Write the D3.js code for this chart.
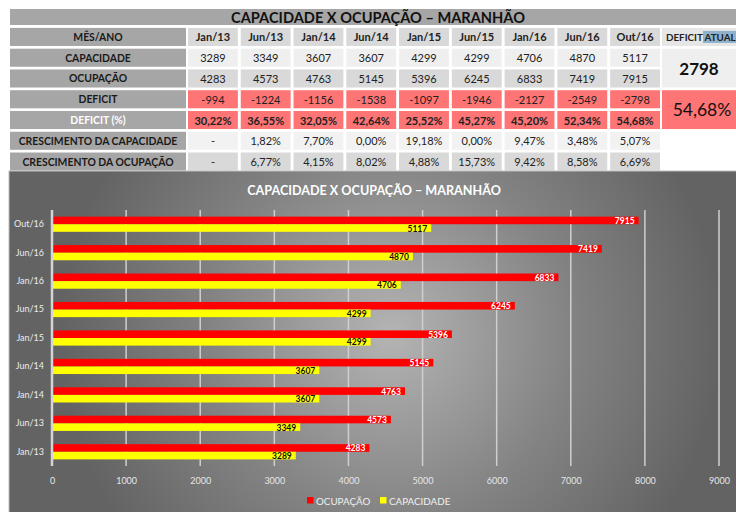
<!DOCTYPE html>
<html><head><meta charset="utf-8">
<script src="https://cdn.jsdelivr.net/npm/d3@7"></script>
<style>
html,body{margin:0;padding:0;background:#fff;}
svg{display:block;font-family:Lato,"Open Sans",sans-serif;}
</style></head>
<body>
<svg id="c" width="736" height="512"></svg>
<script>
const months = ["Jan/13","Jun/13","Jan/14","Jun/14","Jan/15","Jun/15","Jan/16","Jun/16","Out/16"];
const capacidade = [3289,3349,3607,3607,4299,4299,4706,4870,5117];
const ocupacao = [4283,4573,4763,5145,5396,6245,6833,7419,7915];
const deficit = [-994,-1224,-1156,-1538,-1097,-1946,-2127,-2549,-2798];
const deficitPct = ["30,22%","36,55%","32,05%","42,64%","25,52%","45,27%","45,20%","52,34%","54,68%"];
const crescCap = ["-","1,82%","7,70%","0,00%","19,18%","0,00%","9,47%","3,48%","5,07%"];
const crescOc = ["-","6,77%","4,15%","8,02%","4,88%","15,73%","9,42%","8,58%","6,69%"];
const rowLabels = ["MÊS/ANO","CAPACIDADE","OCUPAÇÃO","DEFICIT","DEFICIT (%)","CRESCIMENTO DA CAPACIDADE","CRESCIMENTO DA OCUPAÇÃO"];
const deficitAtual = "2798";
const deficitAtualPct = "54,68%";
const xTicks = [0,1000,2000,3000,4000,5000,6000,7000,8000,9000];
const title = "CAPACIDADE X OCUPAÇÃO – MARANHÃO";
const seriesNames = ["OCUPAÇÃO","CAPACIDADE"];

const svg = d3.select("#c");
const defs = svg.append("defs");

// ---------- TABLE ----------
svg.append("rect").attr("x",10).attr("y",9).attr("width",730).attr("height",16).attr("fill","#a6a6a6");
svg.append("text").attr("x",378).attr("y",17.5).attr("text-anchor","middle").attr("dominant-baseline","central")
  .attr("font-size",14.6).attr("font-weight","bold").attr("fill","#111").text(title);

const rowScale = d3.scaleBand().domain(d3.range(7)).range([27.5,171]).paddingInner(0.13).paddingOuter(0.02);
const colScale = d3.scaleBand().domain(months).range([188,660]).paddingInner(0.055);

const rows = [
  {vals: months, fill:"#d9d9d9", bold:true},
  {vals: capacidade.map(String), fill:"#efefef"},
  {vals: ocupacao.map(String), fill:"#d9d9d9"},
  {vals: deficit.map(String), fill:"#ff7474"},
  {vals: deficitPct, fill:"#ff7474", bold:true},
  {vals: crescCap, fill:"#f2f2f2"},
  {vals: crescOc, fill:"#d9d9d9"}
];

rows.forEach((r,i)=>{
  const y = rowScale(i), h = rowScale.bandwidth();
  svg.append("rect").attr("x",10).attr("y",y).attr("width",176).attr("height",h).attr("fill","#a6a6a6");
  svg.append("text").attr("x",98).attr("y",y+h/2).attr("text-anchor","middle").attr("dominant-baseline","central")
    .attr("font-size",10.4).attr("font-weight","bold").attr("fill", i===4?"#fff":"#1a1a1a").text(rowLabels[i]);
  const g = svg.append("g");
  g.selectAll("rect").data(r.vals).join("rect")
    .attr("x",(d,j)=>colScale(months[j])).attr("y",y).attr("width",colScale.bandwidth()).attr("height",h).attr("fill",r.fill);
  g.selectAll("text").data(r.vals).join("text")
    .attr("x",(d,j)=>colScale(months[j])+colScale.bandwidth()/2).attr("y",y+h/2)
    .attr("text-anchor","middle").attr("dominant-baseline","central")
    .attr("font-size",11).attr("font-weight",r.bold?"bold":"normal").attr("fill","#222").text(d=>d);
});

// right column
{
  const x0 = 662, w = 80;
  const y0 = rowScale(0), h = rowScale.bandwidth();
  svg.append("rect").attr("x",x0).attr("y",y0).attr("width",w).attr("height",h).attr("fill","#e6e6e6");
  svg.append("rect").attr("x",703).attr("y",y0+3).attr("width",33).attr("height",h-6).attr("fill","#8fb1cc");
  svg.append("text").attr("x",666).attr("y",y0+h/2).attr("dominant-baseline","central")
    .attr("font-size",9.8).attr("font-weight","bold").attr("fill","#222").text("DEFICIT ATUAL");
  const y1 = rowScale(1), y2 = rowScale(2)+h;
  svg.append("rect").attr("x",x0).attr("y",y1).attr("width",w).attr("height",y2-y1).attr("fill","#efefef");
  svg.append("text").attr("x",699).attr("y",(y1+y2)/2).attr("text-anchor","middle").attr("dominant-baseline","central")
    .attr("font-size",17).attr("font-weight","bold").attr("fill","#111").text(deficitAtual);
  const y3 = rowScale(3), y4 = rowScale(4)+h;
  svg.append("rect").attr("x",x0).attr("y",y3).attr("width",w).attr("height",y4-y3).attr("fill","#ff7474");
  svg.append("text").attr("x",702).attr("y",(y3+y4)/2).attr("text-anchor","middle").attr("dominant-baseline","central")
    .attr("font-size",17.5).attr("fill","#111").text(deficitAtualPct);
}

// ---------- CHART ----------
const grad = defs.append("radialGradient").attr("id","bg").attr("gradientUnits","userSpaceOnUse")
  .attr("cx",390).attr("cy",335).attr("r",330);
grad.append("stop").attr("offset","0").attr("stop-color","#b4b4b4");
grad.append("stop").attr("offset","0.55").attr("stop-color","#838383");
grad.append("stop").attr("offset","1").attr("stop-color","#636363");

svg.append("rect").attr("x",9).attr("y",171).attr("width",730).attr("height",345)
  .attr("fill","url(#bg)").attr("stroke","#bdbdbd").attr("stroke-width",1);

svg.append("text").attr("x",374).attr("y",190).attr("text-anchor","middle").attr("dominant-baseline","central")
  .attr("font-size",12.6).attr("font-weight","bold").attr("fill","#fff").text(title);

const x = d3.scaleLinear().domain([0,9000]).range([52,719]);
const y = d3.scaleBand().domain(months.slice().reverse()).range([210,466]);
const bh = 7.6;

// gridlines
svg.append("g").selectAll("line").data(xTicks.slice(1)).join("line")
  .attr("x1",d=>x(d)).attr("x2",d=>x(d)).attr("y1",210).attr("y2",466)
  .attr("stroke","#cfcfcf").attr("stroke-width",1.5);

// bars
const data = months.map((m,i)=>({m, oc:ocupacao[i], cap:capacidade[i]}));
const gb = svg.append("g");
gb.selectAll("rect.oc").data(data).join("rect").attr("class","oc")
  .attr("x",x(0)).attr("y",d=>y(d.m)+y.bandwidth()/2-bh).attr("width",d=>x(d.oc)-x(0)).attr("height",bh).attr("fill","#ff0000");
gb.selectAll("rect.cap").data(data).join("rect").attr("class","cap")
  .attr("x",x(0)).attr("y",d=>y(d.m)+y.bandwidth()/2).attr("width",d=>x(d.cap)-x(0)).attr("height",bh).attr("fill","#ffff00");

gb.selectAll("text.oc").data(data).join("text").attr("class","oc")
  .attr("x",d=>x(d.oc)-4).attr("y",d=>y(d.m)+y.bandwidth()/2-bh/2+0.5).attr("text-anchor","end").attr("dominant-baseline","central")
  .attr("font-size",8.5).attr("font-weight","bold").attr("fill","#fff").text(d=>d.oc);
gb.selectAll("text.cap").data(data).join("text").attr("class","cap")
  .attr("x",d=>x(d.cap)-4).attr("y",d=>y(d.m)+y.bandwidth()/2+bh/2+0.5).attr("text-anchor","end").attr("dominant-baseline","central")
  .attr("font-size",8.5).attr("font-weight","bold").attr("fill","#111").text(d=>d.cap);

// y axis line
svg.append("line").attr("x1",x(0)).attr("x2",x(0)).attr("y1",210).attr("y2",466)
  .attr("stroke","#d4d4d4").attr("stroke-width",2.5);

// axes labels
const ax = svg.append("g").attr("transform","translate(0,472)")
  .call(d3.axisBottom(x).tickValues(xTicks).tickSize(0).tickPadding(6).tickFormat(d3.format("d")));
ax.select(".domain").remove();
ax.selectAll("text").attr("font-size",9).attr("fill","#e6e6e6").attr("font-family","Lato,'Open Sans',sans-serif");

const ay = svg.append("g").attr("transform",`translate(${x(0)-6},0)`)
  .call(d3.axisLeft(y).tickSize(0).tickPadding(2));
ay.select(".domain").remove();
ay.selectAll("text").attr("font-size",9).attr("fill","#ececec").attr("font-family","Lato,'Open Sans',sans-serif");

// legend
const leg = [{n:seriesNames[0],c:"#ff0000",x:307},{n:seriesNames[1],c:"#ffff00",x:380}];
const lg = svg.append("g");
lg.selectAll("rect").data(leg).join("rect").attr("x",d=>d.x).attr("y",497).attr("width",6.5).attr("height",6.5).attr("fill",d=>d.c);
lg.selectAll("text").data(leg).join("text").attr("x",d=>d.x+9).attr("y",500.5).attr("dominant-baseline","central")
  .attr("font-size",9.8).attr("fill","#f0f0f0").text(d=>d.n);
</script>
</body></html>
